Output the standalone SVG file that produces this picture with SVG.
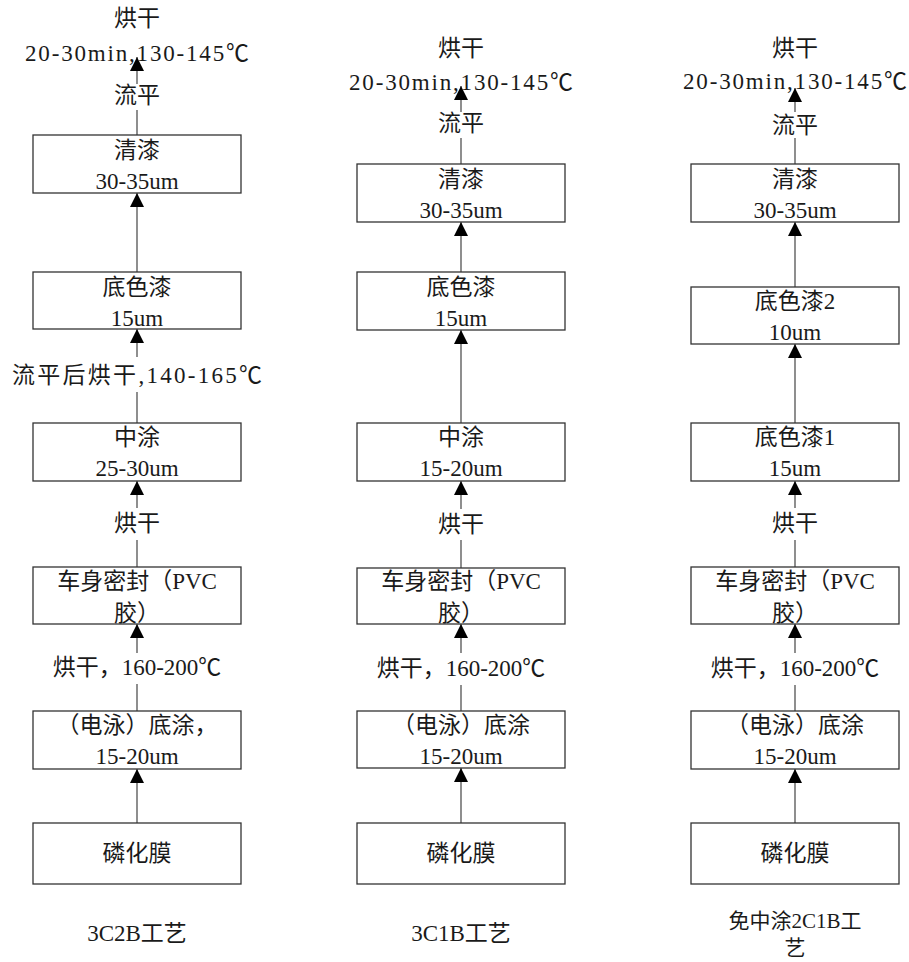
<svg xmlns="http://www.w3.org/2000/svg" width="909" height="962" viewBox="0 0 909 962">
<style>
.box{fill:#fff;stroke:#333;stroke-width:1.3}
.ln{stroke:#444;stroke-width:1.2;fill:none}
.ar{stroke:#444;stroke-width:1.2;fill:none;marker-end:url(#ah)}
text{font-family:"Liberation Serif",serif;font-size:23px;fill:#1a1a1a;text-anchor:middle}
.c{font-family:"Noto Sans CJK SC",sans-serif}
.sm{font-size:21px}
</style>
<defs>
<marker id="ah" markerUnits="userSpaceOnUse" markerWidth="14" markerHeight="14" refX="14" refY="7" orient="auto" viewBox="0 0 14 14">
<path d="M0,0 L14,7 L0,14 z" fill="#000"/>
</marker>
</defs>
<rect width="909" height="962" fill="#fff"/>
<g id="connectors">
<line class="ar" x1="137" y1="84" x2="137" y2="57"/>
<line class="ln" x1="137" y1="135" x2="137" y2="110"/>
<line class="ar" x1="137" y1="272" x2="137" y2="193"/>
<line class="ar" x1="137" y1="357" x2="137" y2="329"/>
<line class="ln" x1="137" y1="423" x2="137" y2="392"/>
<line class="ar" x1="137" y1="508" x2="137" y2="481"/>
<line class="ln" x1="137" y1="567" x2="137" y2="540"/>
<line class="ar" x1="137" y1="653" x2="137" y2="624"/>
<line class="ln" x1="137" y1="711" x2="137" y2="684"/>
<line class="ar" x1="137" y1="823" x2="137" y2="769"/>
<line class="ar" x1="461" y1="112" x2="461" y2="86"/>
<line class="ln" x1="461" y1="164" x2="461" y2="138"/>
<line class="ar" x1="461" y1="272" x2="461" y2="222"/>
<line class="ar" x1="461" y1="423" x2="461" y2="330"/>
<line class="ar" x1="461" y1="509" x2="461" y2="481"/>
<line class="ln" x1="461" y1="568" x2="461" y2="540"/>
<line class="ar" x1="461" y1="653" x2="461" y2="624"/>
<line class="ln" x1="461" y1="711" x2="461" y2="685"/>
<line class="ar" x1="461" y1="823" x2="461" y2="768"/>
<line class="ar" x1="795" y1="112" x2="795" y2="88"/>
<line class="ln" x1="795" y1="164" x2="795" y2="138"/>
<line class="ar" x1="795" y1="287" x2="795" y2="222"/>
<line class="ar" x1="795" y1="423" x2="795" y2="344"/>
<line class="ar" x1="795" y1="508" x2="795" y2="481"/>
<line class="ln" x1="795" y1="567" x2="795" y2="540"/>
<line class="ar" x1="795" y1="653" x2="795" y2="624"/>
<line class="ln" x1="795" y1="711" x2="795" y2="685"/>
<line class="ar" x1="795" y1="823" x2="795" y2="769"/>
</g>
<g id="c1-dry-top"><text x="137" y="26" class="c">烘干</text><text x="137" y="61" textLength="224" lengthAdjust="spacing">20-30min,130-145<tspan class="c">℃</tspan></text></g>
<g id="c1-level"><text x="137" y="103" class="c">流平</text></g>
<g id="c1-clear"><rect class="box" x="33" y="135" width="208" height="58"/><text x="137" y="158" class="c">清漆</text><text x="137" y="189">30-35um</text></g>
<g id="c1-base"><rect class="box" x="33" y="272" width="208" height="57"/><text x="137" y="295" class="c">底色漆</text><text x="137" y="326">15um</text></g>
<g id="c1-level-dry"><text x="137" y="383" textLength="250" lengthAdjust="spacing"><tspan class="c">流平后烘干</tspan>,140-165<tspan class="c">℃</tspan></text></g>
<g id="c1-mid"><rect class="box" x="33" y="423" width="208" height="58"/><text x="137" y="445" class="c">中涂</text><text x="137" y="476">25-30um</text></g>
<g id="c1-dry2"><text x="137" y="531" class="c">烘干</text></g>
<g id="c1-seal"><rect class="box" x="33" y="567" width="208" height="57"/><text x="137" y="589"><tspan class="c">车身密封（</tspan>PVC</text><text x="137" y="621" class="c">胶）</text></g>
<g id="c1-dry3"><text x="137" y="675"><tspan class="c">烘干，</tspan>160-200<tspan class="c">℃</tspan></text></g>
<g id="c1-ed"><rect class="box" x="33" y="711" width="208" height="58"/><text x="137" y="733" class="c">（电泳）底涂，</text><text x="137" y="764">15-20um</text></g>
<g id="c1-phos"><rect class="box" x="33" y="823" width="208" height="61"/><text x="137" y="861" class="c">磷化膜</text></g>
<g id="c1-caption"><text x="137" y="941">3C2B<tspan class="c">工艺</tspan></text></g>
<g id="c2-dry-top"><text x="461" y="56" class="c">烘干</text><text x="461" y="90" textLength="224" lengthAdjust="spacing">20-30min,130-145<tspan class="c">℃</tspan></text></g>
<g id="c2-level"><text x="461" y="131" class="c">流平</text></g>
<g id="c2-clear"><rect class="box" x="357" y="164" width="208" height="58"/><text x="461" y="187" class="c">清漆</text><text x="461" y="218">30-35um</text></g>
<g id="c2-base"><rect class="box" x="357" y="272" width="208" height="58"/><text x="461" y="295" class="c">底色漆</text><text x="461" y="326">15um</text></g>
<g id="c2-mid"><rect class="box" x="357" y="423" width="208" height="58"/><text x="461" y="445" class="c">中涂</text><text x="461" y="476">15-20um</text></g>
<g id="c2-dry2"><text x="461" y="532" class="c">烘干</text></g>
<g id="c2-seal"><rect class="box" x="357" y="568" width="208" height="56"/><text x="461" y="589"><tspan class="c">车身密封（</tspan>PVC</text><text x="461" y="621" class="c">胶）</text></g>
<g id="c2-dry3"><text x="461" y="676"><tspan class="c">烘干，</tspan>160-200<tspan class="c">℃</tspan></text></g>
<g id="c2-ed"><rect class="box" x="357" y="711" width="208" height="57"/><text x="461" y="733" class="c">（电泳）底涂</text><text x="461" y="764">15-20um</text></g>
<g id="c2-phos"><rect class="box" x="357" y="823" width="208" height="61"/><text x="461" y="861" class="c">磷化膜</text></g>
<g id="c2-caption"><text x="461" y="941">3C1B<tspan class="c">工艺</tspan></text></g>
<g id="c3-dry-top"><text x="795" y="56" class="c">烘干</text><text x="795" y="89" textLength="224" lengthAdjust="spacing">20-30min,130-145<tspan class="c">℃</tspan></text></g>
<g id="c3-level"><text x="795" y="133" class="c">流平</text></g>
<g id="c3-clear"><rect class="box" x="691" y="164" width="208" height="58"/><text x="795" y="187" class="c">清漆</text><text x="795" y="218">30-35um</text></g>
<g id="c3-base2"><rect class="box" x="691" y="287" width="208" height="57"/><text x="795" y="309"><tspan class="c">底色漆</tspan>2</text><text x="795" y="340">10um</text></g>
<g id="c3-base1"><rect class="box" x="691" y="423" width="208" height="58"/><text x="795" y="445"><tspan class="c">底色漆</tspan>1</text><text x="795" y="476">15um</text></g>
<g id="c3-dry2"><text x="795" y="531" class="c">烘干</text></g>
<g id="c3-seal"><rect class="box" x="691" y="567" width="208" height="57"/><text x="795" y="589"><tspan class="c">车身密封（</tspan>PVC</text><text x="795" y="621" class="c">胶）</text></g>
<g id="c3-dry3"><text x="795" y="676"><tspan class="c">烘干，</tspan>160-200<tspan class="c">℃</tspan></text></g>
<g id="c3-ed"><rect class="box" x="691" y="711" width="208" height="58"/><text x="795" y="733" class="c">（电泳）底涂</text><text x="795" y="764">15-20um</text></g>
<g id="c3-phos"><rect class="box" x="691" y="823" width="208" height="61"/><text x="795" y="861" class="c">磷化膜</text></g>
<g id="c3-caption"><text x="795" y="928" class="sm"><tspan class="c">免中涂</tspan>2C1B<tspan class="c">工</tspan></text><text x="795" y="955" class="c sm">艺</text></g>
</svg>
